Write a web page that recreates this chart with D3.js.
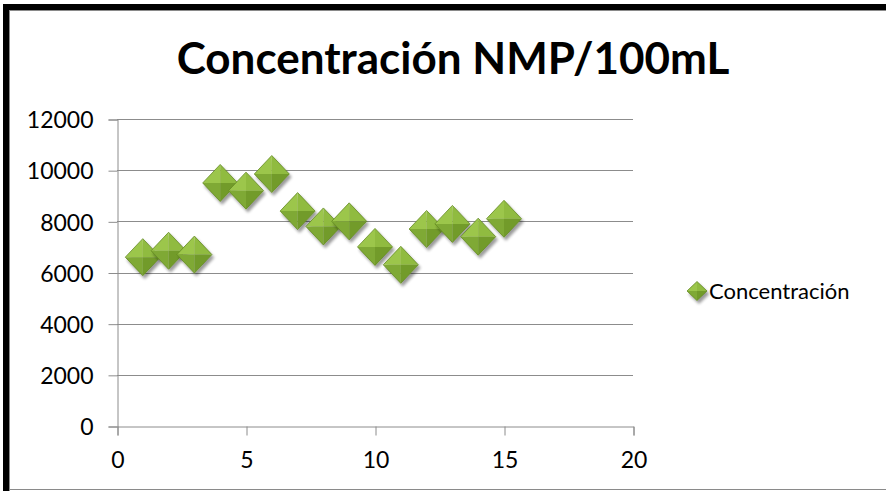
<!DOCTYPE html>
<html>
<head>
<meta charset="utf-8">
<script src="https://cdn.jsdelivr.net/npm/d3@7"></script>
<style>
  html, body { margin: 0; padding: 0; background: #fff; }
  svg { display: block; }
  text { font-family: Lato, "Open Sans", sans-serif; fill: #000; }
</style>
</head>
<body>
<svg id="chart" width="886" height="491"></svg>
<script>
// Muestras (índice) y concentración NMP/100mL
const samples = [1, 2, 3, 4, 5, 6, 7, 8, 9, 10, 11, 12, 13, 14, 15];
const concentration = [6600, 6850, 6700, 9500, 9200, 9850, 8400, 7800, 8000, 7000, 6300, 7700, 7900, 7400, 8100];
const xTicks = [0, 5, 10, 15, 20];
const yTicks = [0, 2000, 4000, 6000, 8000, 10000, 12000];
const title = "Concentración NMP/100mL";
const seriesName = "Concentración";

const svg = d3.select("#chart");
const W = 886, H = 491;
const plot = { left: 117, right: 633, top: 119, bottom: 426 };

const x = d3.scaleLinear().domain([0, 20]).range([plot.left, plot.right]);
const y = d3.scaleLinear().domain([0, 12000]).range([plot.bottom, plot.top]);

// Frame: heavy black top/left edge, thin grey inner line and bottom line
svg.append("rect").attr("x", 3).attr("y", 4).attr("width", W - 3).attr("height", 6).attr("fill", "#000");
svg.append("rect").attr("x", 3).attr("y", 4).attr("width", 6).attr("height", H - 4).attr("fill", "#000");
svg.append("line").attr("x1", 9).attr("x2", W).attr("y1", 10.5).attr("y2", 10.5).attr("stroke", "#8a8a8a");
svg.append("line").attr("x1", 9.5).attr("x2", 9.5).attr("y1", 10).attr("y2", H).attr("stroke", "#8a8a8a");
svg.append("line").attr("x1", 9).attr("x2", W).attr("y1", 489.5).attr("y2", 489.5).attr("stroke", "#8a8a8a");

// Drop shadow for the bevelled diamond markers
const defs = svg.append("defs");
const shadow = defs.append("filter").attr("id", "shadow").attr("x", "-50%").attr("y", "-50%").attr("width", "200%").attr("height", "200%");
shadow.append("feGaussianBlur").attr("in", "SourceAlpha").attr("stdDeviation", 1.6).attr("result", "b");
shadow.append("feOffset").attr("in", "b").attr("dx", 1.5).attr("dy", 2.5).attr("result", "o");
shadow.append("feComponentTransfer").attr("in", "o").attr("result", "s")
  .append("feFuncA").attr("type", "linear").attr("slope", 0.4);
const merge = shadow.append("feMerge");
merge.append("feMergeNode").attr("in", "s");
merge.append("feMergeNode").attr("in", "SourceGraphic");

// Title
svg.append("text")
  .attr("x", 453).attr("y", 74)
  .attr("text-anchor", "middle")
  .attr("font-weight", "bold")
  .attr("font-size", 44)
  .text(title);

// Horizontal gridlines
svg.append("g")
  .selectAll("line")
  .data(yTicks.filter(d => d > 0))
  .join("line")
  .attr("x1", plot.left).attr("x2", plot.right)
  .attr("y1", d => Math.round(y(d)) + 0.5).attr("y2", d => Math.round(y(d)) + 0.5)
  .attr("stroke", "#8c8c8c").attr("stroke-width", 1);

// Y axis
const yAxis = svg.append("g")
  .attr("transform", `translate(${plot.left + 0.5},0.5)`)
  .call(d3.axisLeft(y).tickValues(yTicks).tickSize(9).tickPadding(15).tickFormat(d3.format("d")));
yAxis.select(".domain").attr("stroke", "#8c8c8c");
yAxis.selectAll(".tick line").attr("stroke", "#8c8c8c");
yAxis.selectAll(".tick text")
  .attr("font-size", 23).attr("font-family", "Lato, sans-serif").attr("fill", "#000")
  .attr("dy", "0.36em");

// X axis
const xAxis = svg.append("g")
  .attr("transform", `translate(0.5,${Math.round(plot.bottom) + 0.5})`)
  .call(d3.axisBottom(x).tickValues(xTicks).tickSize(9).tickPadding(16).tickFormat(d3.format("d")));
xAxis.select(".domain").attr("stroke", "#8c8c8c");
xAxis.selectAll(".tick line").attr("stroke", "#8c8c8c");
xAxis.selectAll(".tick text")
  .attr("font-size", 23).attr("font-family", "Lato, sans-serif").attr("fill", "#000");

// Bevelled diamond marker: four facets around a centre point
function diamond(g, cx, cy, rx, ry) {
  const t = [cx, cy - ry], r = [cx + rx, cy], b = [cx, cy + ry], l = [cx - rx, cy], c = [cx, cy];
  const facets = [
    { p: [l, t, c], fill: "#9cc64c" },
    { p: [t, r, c], fill: "#90bb41" },
    { p: [l, b, c], fill: "#7fa934" },
    { p: [r, b, c], fill: "#729b2b" }
  ];
  const m = g.append("g").attr("filter", "url(#shadow)");
  m.selectAll("path").data(facets).join("path")
    .attr("d", f => "M" + f.p.map(q => q.join(",")).join("L") + "Z")
    .attr("fill", f => f.fill);
  m.append("path")
    .attr("d", `M${t}L${r}L${b}L${l}Z`)
    .attr("fill", "none").attr("stroke", "#638a22").attr("stroke-width", 0.8);
}

const points = svg.append("g");
samples.forEach((s, i) => {
  diamond(points, x(s), y(concentration[i]), 17.5, 18.5);
});

// Legend
const legend = svg.append("g");
diamond(legend, 697, 291, 10, 9.5);
legend.append("text")
  .attr("x", 709).attr("y", 291).attr("dy", "0.36em")
  .attr("font-size", 22)
  .text(seriesName);
</script>
</body>
</html>
